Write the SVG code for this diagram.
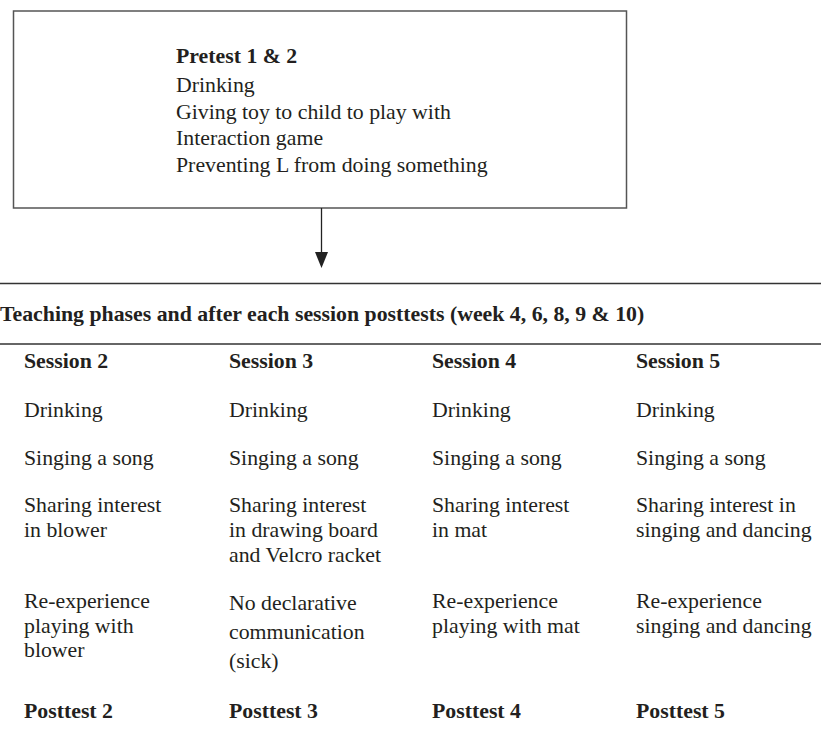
<svg xmlns="http://www.w3.org/2000/svg" width="821" height="733" viewBox="0 0 821 733">
<style>
text{font-family:"Liberation Serif","Times New Roman",serif;font-size:21.8px;fill:#231f20}
.b{font-weight:bold}
.rule{stroke:#333;stroke-width:1.3;fill:none}
.box{fill:#fff;stroke:#555;stroke-width:1.5}
.conn{stroke:#222;stroke-width:1.3;fill:none}
</style>
<rect width="821" height="733" fill="#fff"/>
<g id="pretest">
<rect class="box" x="13.5" y="11" width="613" height="197"/>
<text x="176" y="63" class="b">Pretest 1 &amp; 2</text>
<text x="176" y="92">Drinking</text>
<text x="176" y="119">Giving toy to child to play with</text>
<text x="176" y="145">Interaction game</text>
<text x="176" y="172">Preventing L from doing something</text>
</g>
<g id="connectors">
<line class="conn" x1="321.5" y1="208" x2="321.5" y2="254"/>
<path d="M315,252 L328,252 L321.5,268 Z" fill="#222"/>
</g>
<g id="teaching">
<line class="rule" x1="0" y1="283.5" x2="821" y2="283.5"/>
<text x="0" y="321" class="b">Teaching phases and after each session posttests (week 4, 6, 8, 9 &amp; 10)</text>
<line class="rule" x1="0" y1="344" x2="821" y2="344"/>
</g>
<g id="session2">
<text x="24" y="368" class="b">Session 2</text>
<text x="24" y="417">Drinking</text>
<text x="24" y="465">Singing a song</text>
<text x="24" y="512">Sharing interest</text>
<text x="24" y="537">in blower</text>
<text x="24" y="608">Re-experience</text>
<text x="24" y="633">playing with</text>
<text x="24" y="657">blower</text>
<text x="24" y="718" class="b">Posttest 2</text>
</g>
<g id="session3">
<text x="229" y="368" class="b">Session 3</text>
<text x="229" y="417">Drinking</text>
<text x="229" y="465">Singing a song</text>
<text x="229" y="512">Sharing interest</text>
<text x="229" y="537">in drawing board</text>
<text x="229" y="562">and Velcro racket</text>
<text x="229" y="610">No declarative</text>
<text x="229" y="639">communication</text>
<text x="229" y="668">(sick)</text>
<text x="229" y="718" class="b">Posttest 3</text>
</g>
<g id="session4">
<text x="432" y="368" class="b">Session 4</text>
<text x="432" y="417">Drinking</text>
<text x="432" y="465">Singing a song</text>
<text x="432" y="512">Sharing interest</text>
<text x="432" y="537">in mat</text>
<text x="432" y="608">Re-experience</text>
<text x="432" y="633">playing with mat</text>
<text x="432" y="718" class="b">Posttest 4</text>
</g>
<g id="session5">
<text x="636" y="368" class="b">Session 5</text>
<text x="636" y="417">Drinking</text>
<text x="636" y="465">Singing a song</text>
<text x="636" y="512">Sharing interest in</text>
<text x="636" y="537">singing and dancing</text>
<text x="636" y="608">Re-experience</text>
<text x="636" y="633">singing and dancing</text>
<text x="636" y="718" class="b">Posttest 5</text>
</g>
</svg>
